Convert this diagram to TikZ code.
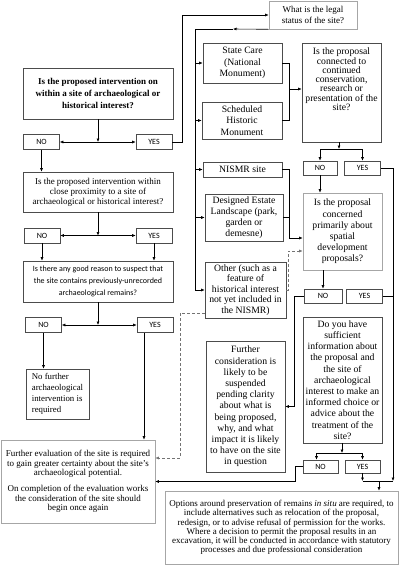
\documentclass[tikz,border=0pt]{standalone}
\usepackage{fontspec}
\setmainfont{Liberation Serif}
\newfontfamily\carl{Carlito}
\usetikzlibrary{arrows.meta}

\begin{document}
\begin{tikzpicture}[x=1pt,y=-1pt,line width=0.6pt,
    box/.style={draw=black!70, align=center, inner sep=1pt, font=\fontsize{9}{10}\selectfont},
    rbox/.style={box, font=\fontsize{9.7}{11.2}\selectfont},
    pale/.style={draw=black!35},
    yn/.style={draw=black!70, inner sep=0pt, minimum width=36, minimum height=15, font=\carl\fontsize{8}{9}\selectfont},
    arr/.style={-{Latex[length=3.5pt,width=3pt]}},
    dsh/.style={densely dashed, black!55}]
\useasboundingbox (0,0) rectangle (400,566);

% left column
\node[box, minimum width=150, minimum height=51, font=\bfseries\fontsize{9}{12}\selectfont] (q1) at (98,93.5)
    {Is the proposed intervention on\\within a site of archaeological or\\historical interest?};
\node[yn] (no1) at (41.5,142) {NO};
\node[yn] (yes1) at (154,142) {YES};
\node[box, minimum width=150, minimum height=40] (ql2) at (98,192)
    {Is the proposed intervention within\\close proximity to a site of\\archaeological or historical interest?};
\node[yn] (nol2) at (42,235.5) {NO};
\node[yn] (yesl2) at (154,235.5) {YES};
\node[box, minimum width=150, minimum height=41, font=\carl\fontsize{8}{12}\selectfont] (ql3) at (98,281.5)
    {Is there any good reason to suspect that\\the site contains previously-unrecorded\\archaeological remains?};
\node[yn] (nol3) at (43.5,325) {NO};
\node[yn] (yesl3) at (155,325) {YES};
\node[box, align=left, minimum width=63, minimum height=50, font=\fontsize{8.8}{11}\selectfont] (nofurther) at (57.5,394)
    {No further\\archaeological\\intervention is\\required};
\node[box, pale, minimum width=154, minimum height=83, font=\fontsize{9}{9.6}\selectfont] (furtheval) at (78,481.5)
    {Further evaluation of the site is required\\to gain greater certainty about the site's\\archaeological potential.\\[6pt]
     On completion of the evaluation works\\the consideration of the site should\\begin once again};

% right half
\node[rbox, pale, minimum width=88, minimum height=28, font=\fontsize{9}{10.5}\selectfont] (legal) at (313,15)
    {What is the legal\\status of the site?};
\node[rbox, minimum width=79, minimum height=40] (state) at (242.5,63) {State Care\\(National\\Monument)};
\node[rbox, minimum width=80, minimum height=37] (sched) at (242,120.5) {Scheduled\\Historic\\Monument};
\node[rbox, minimum width=79, minimum height=15] (nismr) at (242.5,169.5) {NISMR site};
\node[rbox, minimum width=78, minimum height=47] (design) at (244,217.5)
    {Designed Estate\\Landscape (park,\\garden or\\demesne)};
\node[rbox, minimum width=81, minimum height=56, font=\fontsize{9.7}{10.5}\selectfont] (other) at (245.5,290)
    {Other (such as a\\feature of\\historical interest\\not yet included in\\the NISMR)};
\node[rbox, minimum width=79, minimum height=99] (q2r) at (341.5,92.5) {};
\node[align=center, anchor=north, inner sep=0pt, font=\fontsize{9.7}{9.3}\selectfont] (q2rtext) at ([yshift=-5pt]q2r.north)
    {Is the proposal\\connected to\\continued\\conservation,\\research or\\presentation of the\\site?};
\node[yn, minimum width=34, minimum height=14] (no2) at (320,168) {NO};
\node[yn, minimum height=14] (yes2) at (362.5,168) {YES};
\node[rbox, pale, minimum width=79, minimum height=77] (q3r) at (342.5,231.5)
    {Is the proposal\\concerned\\primarily about\\spatial\\development\\proposals?};
\node[yn, minimum width=38, minimum height=14] (no3) at (323,296) {NO};
\node[yn, minimum height=14] (yes3) at (364.5,296) {YES};
\node[rbox, minimum width=79, minimum height=126] (q4r) at (342.5,380)
    {Do you have\\sufficient\\information about\\the proposal and\\the site of\\archaeological\\interest to make an\\informed choice or\\advice about the\\treatment of the\\site?};
\node[rbox, minimum width=79, minimum height=131] (furthcons) at (245.5,406.5)
    {Further\\consideration is\\likely to be\\suspended\\pending clarity\\about what is\\being proposed,\\why, and what\\impact it is likely\\to have on the site\\in question};
\node[yn, minimum width=35, minimum height=13] (no4) at (320.5,466.5) {NO};
\node[yn, minimum width=35, minimum height=13] (yes4) at (362.5,466.5) {YES};
\node[box, pale, minimum width=233, minimum height=73, font=\fontsize{9}{9.3}\selectfont] (final) at (281.5,527.5)
    {Options around preservation of remains \emph{in situ} are required, to\\include alternatives such as relocation of the proposal,\\redesign, or to advise refusal of permission for the works.\\Where a decision to permit the proposal results in an\\excavation, it will be conducted in accordance with statutory\\processes and due professional consideration};

% left connectors
\coordinate (j1) at (98,142);
\draw[arr] (q1) -- (j1);
\draw[arr] (j1) -- (no1);
\draw[arr] (j1) -- (yes1);
\draw[arr] (yes1.east) -- (182,142) |- (legal.west);
\draw[arr] (no1.south) -- (no1.south |- ql2.north);
\coordinate (j2) at (98,235.5);
\draw[arr] (ql2) -- (j2);
\draw[arr] (j2) -- (nol2);
\draw[arr] (j2) -- (yesl2);
\draw[arr] (nol2.south) -- (nol2.south |- ql3.north);
\draw[arr] (yesl2.south) -- (yesl2.south |- ql3.north);
\coordinate (j3) at (98,325);
\draw[arr] (ql3) -- (j3);
\draw[arr] (j3) -- (nol3);
\draw[arr] (j3) -- (yesl3);
\draw[arr] (nol3.south) -- (nol3.south |- nofurther.north);
\draw[arr] ([xshift=-11pt]yesl3.south) -- ([xshift=-11pt]yesl3.south |- furtheval.north);

% legal status trunk
\coordinate (tk) at (195,29);
\coordinate (tkm) at (233,29);
\draw[arr] (legal.south west) -- (tkm);
\draw (tkm) -- (tk) -- (tk |- other.west);
\foreach \b in {state,sched,nismr,design,other}
    \draw[arr] (tk |- \b.west) -- (\b.west);

% right connectors
\coordinate (b1) at (289,89);
\draw (state.east) -| (b1);
\draw (sched.east) -| (b1);
\draw[arr] (b1) -- (b1 -| q2r.west);
\coordinate (j4) at (339,149);
\draw[arr] (j4 |- q2r.south) -- (j4);
\draw[arr] (j4) -| (no2.north);
\draw[arr] (j4) -| (yes2.north);
\draw[arr] (no2) -- (no2 |- q3r.north);
\coordinate (b2) at (289,238);
\draw[arr] (nismr.east) -| (b2) -- (b2 -| q3r.west);
\draw (design.east) -- (design.east -| b2);
\coordinate (d1) at (288,251);
\draw[dsh, arr] (other.east) -| (d1) -- (d1 -| q3r.west);
\coordinate (d2) at (180,313);
\coordinate (d3) at (180,458);
\draw[dsh, arr] (other.west |- d2) -- (d2) -- (d3) -- (d3 -| furtheval.east);
\draw[arr] (no3 |- q3r.south) -- (no3);
\draw[arr] (no3.west) -- ++(-9,0) |- (furthcons.east);
\coordinate (rt) at (393,481);
\draw[arr] (yes2.east) -- (yes2.east -| rt) -- (rt);
\draw (yes3.east) -- (yes3.east -| rt);
\coordinate (j5) at (342,453);
\draw[arr] (j5 |- q4r.south) -- (j5);
\draw[arr] (j5) -| ([xshift=-4pt]no4.north);
\draw[arr] (j5) -| (yes4.north);
\draw[arr] (no4.west) -- ++(-7,0) |- (furtheval.east);
\draw[arr] (yes4) -- (yes4 |- rt);
\draw (yes4 |- rt) -- (rt);
\coordinate (m) at (379,481);
\draw[arr] (m) -- (m |- final.north);
\end{tikzpicture}
\end{document}
